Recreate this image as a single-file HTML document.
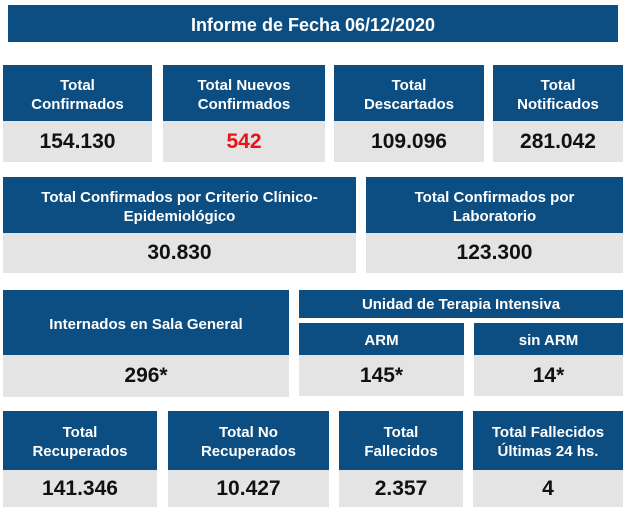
<!DOCTYPE html>
<html><head><style>
body{margin:0;width:626px;height:513px;background:#fff;font-family:"Liberation Sans",sans-serif;font-weight:bold;position:relative;overflow:hidden}
.b{position:absolute;background:#0d4e82;color:#fff;display:flex;align-items:center;justify-content:center;text-align:center;font-size:15px;line-height:19px;padding-top:3px;box-sizing:border-box}
.g{position:absolute;background:#e4e4e4;color:#111;display:flex;align-items:center;justify-content:center;font-size:21px}
</style></head><body>
<div class="b" style="left:8px;top:5px;width:610px;height:37px;font-size:18px">Informe de Fecha 06/12/2020</div>

<div class="b" style="left:3px;top:65px;width:149px;height:56px">Total<br>Confirmados</div>
<div class="g" style="left:3px;top:121px;width:149px;height:41px">154.130</div>
<div class="b" style="left:163px;top:65px;width:162px;height:56px">Total Nuevos<br>Confirmados</div>
<div class="g" style="left:163px;top:121px;width:162px;height:41px;color:#e8141b">542</div>
<div class="b" style="left:334px;top:65px;width:150px;height:56px">Total<br>Descartados</div>
<div class="g" style="left:334px;top:121px;width:150px;height:41px">109.096</div>
<div class="b" style="left:493px;top:65px;width:130px;height:56px">Total<br>Notificados</div>
<div class="g" style="left:493px;top:121px;width:130px;height:41px">281.042</div>

<div class="b" style="left:3px;top:177px;width:353px;height:56px">Total Confirmados por Criterio Clínico-<br>Epidemiológico</div>
<div class="g" style="left:3px;top:233px;width:353px;height:40px">30.830</div>
<div class="b" style="left:366px;top:177px;width:257px;height:56px">Total Confirmados por<br>Laboratorio</div>
<div class="g" style="left:366px;top:233px;width:257px;height:40px">123.300</div>

<div class="b" style="left:3px;top:290px;width:286px;height:65px">Internados en Sala General</div>
<div class="g" style="left:3px;top:355px;width:286px;height:42px">296*</div>
<div class="b" style="left:299px;top:290px;width:324px;height:28px;padding-top:0">Unidad de Terapia Intensiva</div>
<div class="b" style="left:299px;top:323px;width:165px;height:32px">ARM</div>
<div class="g" style="left:299px;top:355px;width:165px;height:41px">145*</div>
<div class="b" style="left:474px;top:323px;width:149px;height:32px">sin ARM</div>
<div class="g" style="left:474px;top:355px;width:149px;height:41px">14*</div>

<div class="b" style="left:3px;top:411px;width:154px;height:59px">Total<br>Recuperados</div>
<div class="g" style="left:3px;top:470px;width:154px;height:37px">141.346</div>
<div class="b" style="left:168px;top:411px;width:161px;height:59px">Total No<br>Recuperados</div>
<div class="g" style="left:168px;top:470px;width:161px;height:37px">10.427</div>
<div class="b" style="left:339px;top:411px;width:124px;height:59px">Total<br>Fallecidos</div>
<div class="g" style="left:339px;top:470px;width:124px;height:37px">2.357</div>
<div class="b" style="left:473px;top:411px;width:150px;height:59px">Total Fallecidos<br>Últimas 24 hs.</div>
<div class="g" style="left:473px;top:470px;width:150px;height:37px">4</div>
</body></html>
